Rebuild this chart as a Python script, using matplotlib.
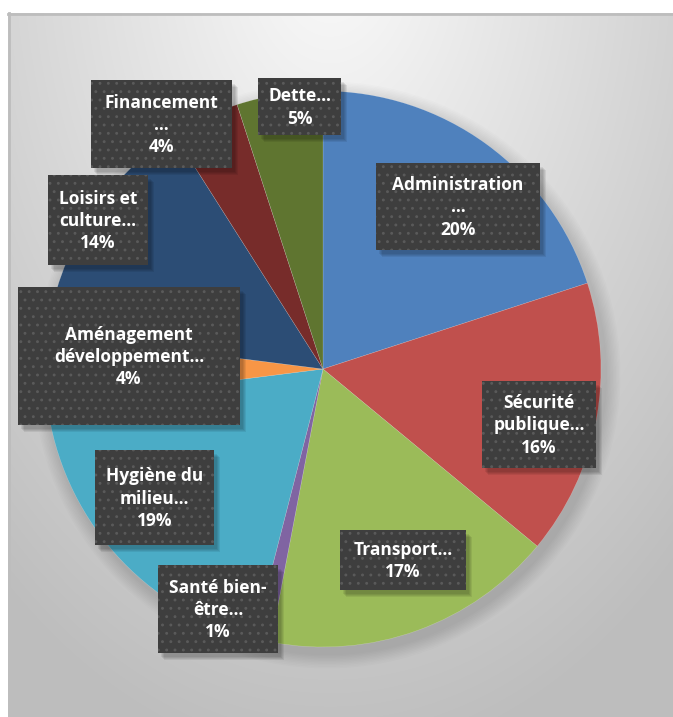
import matplotlib.pyplot as plt
from matplotlib.patches import Rectangle
import numpy as np

categories = ["Administration", "Sécurité publique", "Transport", "Santé bien-être",
              "Hygiène du milieu", "Aménagement développement", "Loisirs et culture",
              "Financement", "Dette"]
shares = [20, 16, 17, 1, 19, 4, 14, 4, 5]
label_texts = ["Administration\n…\n20%", "Sécurité\npublique…\n16%", "Transport…\n17%",
               "Santé bien-\nêtre…\n1%", "Hygiène du\nmilieu…\n19%",
               "Aménagement\ndéveloppement…\n4%", "Loisirs et\nculture…\n14%",
               "Financement\n…\n4%", "Dette…\n5%"]
colors = ["#4F81BD", "#C0504D", "#9BBB59", "#8064A2", "#4BACC6",
          "#F79646", "#2C4D75", "#772C2A", "#5F7530"]

# label boxes in pixels: left, top, right, bottom
boxes = [(376, 163, 540, 250), (482, 381, 596, 468), (340, 530, 466, 590),
         (158, 565, 278, 653), (95, 450, 214, 545), (18, 287, 240, 425),
         (48, 175, 148, 265), (91, 80, 232, 168), (258, 78, 341, 135)]

W, H = 673, 717
fig = plt.figure(figsize=(W / 100, H / 100), dpi=100)

# background with gradient and frame
bg = fig.add_axes([0, 0, 1, 1])
yy, xx = np.mgrid[0:H, 0:W]
dist = np.sqrt(((xx - 330) / 520.0) ** 2 + ((yy + 60) / 820.0) ** 2)
shade = 0.985 - 0.24 * np.clip(dist, 0, 1)
img = np.dstack([shade, shade, shade])
img[:13, :] = 1.0
img[:, :8] = 1.0
bg.imshow(img, extent=[0, W, H, 0], aspect="auto")
bg.plot([8, W], [13.5, 13.5], color="#bdbdbd", lw=2)
bg.plot([8.5, 8.5], [13, H], color="#bdbdbd", lw=2)
bg.set_xlim(0, W)
bg.set_ylim(H, 0)
bg.axis("off")

# soft shadow of the pie
cx, cy, r = 323, 369, 278
for k in range(10):
    bg.add_patch(plt.Circle((cx + 4, cy + 6), r + 2 + k * 1.5, color="black",
                            alpha=0.012, lw=0))

ax = fig.add_axes([(cx - r) / W, 1 - (cy + r) / H, 2 * r / W, 2 * r / H])
ax.pie(shares, colors=colors, startangle=90, counterclock=False,
       wedgeprops=dict(linewidth=0.3, edgecolor="#ffffff55"))
ax.set_xlim(-1, 1)
ax.set_ylim(-1, 1)
ax.axis("off")

over = fig.add_axes([0, 0, 1, 1])
over.set_xlim(0, W)
over.set_ylim(H, 0)
over.axis("off")
plt.rcParams["hatch.linewidth"] = 0.9
for (l, t, rr, b), txt in zip(boxes, label_texts):
    for k in range(4):
        over.add_patch(Rectangle((l + 3 + k, t + 4 + k), rr - l, b - t,
                                 color="black", alpha=0.07, lw=0))
    over.add_patch(Rectangle((l, t), rr - l, b - t, facecolor="#3e3e3e",
                             edgecolor="#5a5a5a", hatch="..", lw=0))
    over.text((l + rr) / 2, (t + b) / 2 + 1, txt, ha="center", va="center",
              color="white", fontsize=12.5, fontweight="bold", family="Open Sans",
              linespacing=1.3)

fig.savefig("out.png", dpi=100)
